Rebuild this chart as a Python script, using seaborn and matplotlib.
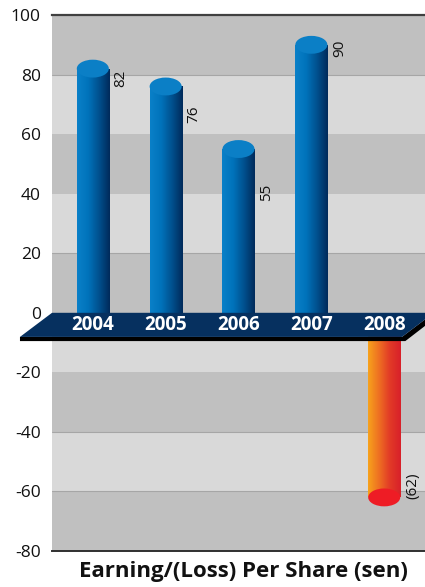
import numpy as np
import matplotlib
matplotlib.use("Agg")
import matplotlib.pyplot as plt
from matplotlib.colors import LinearSegmentedColormap
from matplotlib.patches import Ellipse, Polygon
import seaborn as sns

# Earnings per share by financial year (sen)
years = ["2004", "2005", "2006", "2007", "2008"]
eps = [82, 76, 55, 90, -62]
value_labels = ["82", "76", "55", "90", "(62)"]
# vertical nudge of each value label, in points
label_nudge = [-1, -14, -25, 4, -1]

y_ticks = [100, 80, 60, 40, 20, 0, -20, -40, -60, -80]

sns.set_theme(style="white")
plt.rcParams["font.family"] = ["Open Sans", "DejaVu Sans"]

fig = plt.figure(figsize=(4.25, 5.87), dpi=100)
ax = fig.add_axes([0.1224, 0.0613, 0.8776, 0.9131])

bar_w = 0.44
sns.barplot(x=years, y=eps, ax=ax, width=bar_w, color="#0070b8",
            saturation=1, errorbar=None, zorder=2)

xlo, xhi = -0.56, 4.56
ylo, yhi = -80, 100

# alternating horizontal bands
for i, (top, bot) in enumerate(zip(y_ticks[:-1], y_ticks[1:])):
    shade = "#c0c0c0" if i % 2 == 0 else "#d9d9d9"
    if top == 0:
        shade = "#d9d9d9"
    ax.axhspan(bot, top, color=shade, zorder=0, lw=0)
for g in [80, 20, -40, -60]:
    ax.axhline(g, color="#a6a6a6", lw=0.8, zorder=0.5)

blue_cmap = LinearSegmentedColormap.from_list(
    "cyl_blue", ["#0a80c8", "#0073bb", "#00518f", "#002a5a"])
red_cmap = LinearSegmentedColormap.from_list(
    "cyl_red", ["#f7a21c", "#ee6f22", "#e23a27", "#d8202a"])
grad = np.linspace(0, 1, 128).reshape(1, -1)

for patch, val, lab, nudge in zip(ax.patches, eps, value_labels, label_nudge):
    x0, w = patch.get_x(), patch.get_width()
    y0, h = patch.get_y(), patch.get_height()
    cmap = blue_cmap if val >= 0 else red_cmap
    img = ax.imshow(grad, extent=[x0, x0 + w, min(y0, y0 + h), max(y0, y0 + h)],
                    aspect="auto", cmap=cmap, zorder=2, interpolation="bilinear")
    img.set_clip_path(patch)
    patch.set_facecolor("none")
    patch.set_edgecolor("none")
    cap = "#0b7fc6" if val >= 0 else "#ee1c25"
    ax.add_patch(Ellipse((x0 + w / 2, val), w, 6.0, facecolor=cap,
                         edgecolor="none", zorder=3))
    va = "top" if val >= 0 else "bottom"
    ax.annotate(lab, xy=(x0 + w, val), xytext=(3.5, nudge),
                textcoords="offset points", rotation=90, ha="left", va=va,
                fontsize=11, color="#111111", zorder=6)

# base slab carrying the year labels
slab_top, slab_bot, shade_bot = 0.0, -8.1, -9.5
navy = [(-0.56, slab_top), (4.68, slab_top), (4.244, slab_bot), (-1.0, slab_bot)]
dark = [(-1.0, shade_bot), (4.29, shade_bot), (4.73, -1.2), (4.68, slab_top),
        (4.244, slab_bot), (-1.0, slab_bot)]
ax.add_patch(Polygon(dark, closed=True, facecolor="#000000", edgecolor="none",
                     zorder=4, clip_on=False))
ax.add_patch(Polygon(navy, closed=True, facecolor="#06305f", edgecolor="none",
                     zorder=4.5, clip_on=False))
for i, yr in enumerate(years):
    ax.text(i, -4.2, yr, ha="center", va="center", color="white",
            fontsize=13.5, fontweight="bold", zorder=5)

ax.set_xlim(xlo, xhi)
ax.set_ylim(ylo, yhi)
ax.set_yticks(y_ticks)
ax.set_yticklabels([str(t) for t in y_ticks], fontsize=12.5, color="#111111")
ax.tick_params(axis="y", length=0, pad=8)
ax.set_xticks([])
ax.set_xlabel("")
ax.set_ylabel("")
for side in ["left", "right"]:
    ax.spines[side].set_visible(False)
ax.spines["top"].set_color("#404040")
ax.spines["top"].set_linewidth(1.6)
ax.spines["bottom"].set_color("#303030")
ax.spines["bottom"].set_linewidth(1.4)

fig.text(0.572, 0.0256, "Earning/(Loss) Per Share (sen)", ha="center",
         va="center", fontsize=16, fontweight="bold", color="#111111")

fig.savefig("out.png", dpi=100)
